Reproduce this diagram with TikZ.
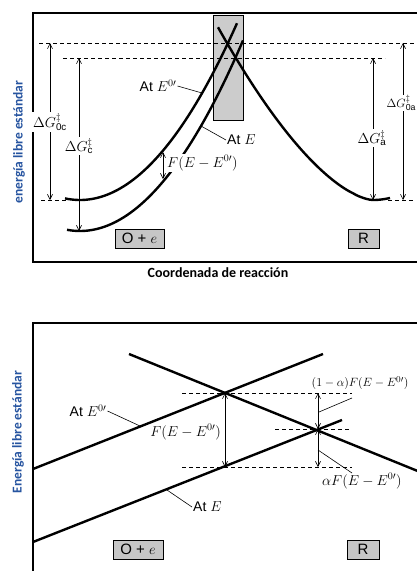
\documentclass[tikz,border=0pt]{standalone}
\usepackage{fontspec}
\setmainfont{Liberation Sans}
\newfontfamily\calib{Carlito}
\usetikzlibrary{arrows.meta}
\definecolor{axblue}{RGB}{38,84,160}
\begin{document}
\begin{tikzpicture}[x=1pt,y=-1pt,
  curve/.style={line width=2.4pt},
  dsh/.style={dash pattern=on 4pt off 3pt, line width=0.75pt},
  dim/.style={line width=0.6pt, {Straight Barb[length=5pt,width=5pt]}-{Straight Barb[length=5pt,width=5pt]}},
  lead/.style={line width=0.6pt},
  frame/.style={line width=1.1pt},
  tag/.style={draw, line width=0.9pt, fill=gray!45, inner sep=0pt, font=\fontsize{15}{15}\selectfont},
  lab/.style={font=\fontsize{14}{16}\selectfont, inner sep=1pt},
  slab/.style={font=\fontsize{12.5}{15}\selectfont, inner sep=1pt},
  wlab/.style={lab, fill=white},
  axis/.style={font=\calib\bfseries\fontsize{13.5}{15}\selectfont, inner sep=0pt}]
\useasboundingbox (0,0) rectangle (417,571);
\fill[white] (0,0) rectangle (417,571);
% ================= TOP PANEL =================
\draw[frame] (417,13) -- (33,13) -- (33,262) -- (417,262);
\draw[fill=gray!40, line width=0.6pt] (213,15) rectangle (243,120);
\draw[dsh] (39,43) -- (417,43);
\draw[dsh] (63,58) -- (385,58);
\draw[dsh] (41,200) -- (66,200);
\draw[dsh] (388,200) -- (414,200);
% curves
\draw[curve] plot[domain=65:237, samples=60, smooth] (\x, {200-0.00717*(\x-80)*(\x-80)});
\draw[curve] plot[domain=67:243, samples=60, smooth] (\x, {231-0.00717*(\x-80)*(\x-80)});
\draw[curve] plot[domain=218:372, samples=60, smooth] (\x, {200-157*((373-\x)/146)^1.6})
   -- plot[domain=372:390, samples=10, smooth] (\x, {200-0.0072*(\x-373)*(\x-373)});
% dimension arrows
\coordinate (c0t) at (50,43);  \coordinate (c0b) at (50,200);
\coordinate (ct) at (79,58);   \coordinate (cb) at (79,231);
\coordinate (at) at (373,58);  \coordinate (ab) at (373,200);
\coordinate (a0t) at (403,43); \coordinate (a0b) at (403,200);
\coordinate (ft) at (163,152); \coordinate (fb) at (163,179);
\draw[dim] (c0t) -- (c0b);
\draw[dim] (ct) -- (cb);
\draw[dim] (at) -- (ab);
\draw[dim] (a0t) -- (a0b);
\draw[dim] (ft) -- (fb);
\node[wlab] (g0c) at (50,122) {$\Delta G^{\ddagger}_{\mathrm{0c}}$};
\node[wlab] (gc) at (79,146) {$\Delta G^{\ddagger}_{\mathrm{c}}$};
\node[wlab] (ga) at (372,138) {$\Delta G^{\ddagger}_{\mathrm{a}}$};
\node[slab, fill=white, anchor=west, inner sep=0.5pt] (g0a) at (386,103) {$\Delta G^{\ddagger}_{\mathrm{0a}}$};
\node[wlab, anchor=west] (fl) at (166,163) {$F(E-E^{0\prime})$};
% labels with leaders
\node[lab] (t0) at (158,86) {At $E^{0\prime}$};
\coordinate (t0c) at (202,93);
\draw[lead] (t0.east) -- (t0c);
\node[lab, anchor=west] (t1) at (226,140) {At $E$};
\coordinate (t1c) at (201,126);
\draw[lead] (t1c) -- (t1.west);
% species boxes
\node[tag, minimum width=49pt, minimum height=19pt] (ox) at (139.5,238.5) {O + $e$};
\node[tag, minimum width=31pt, minimum height=19pt] (rd) at (363.5,238.5) {R};
\node[font=\calib\bfseries\fontsize{14}{16}\selectfont] (xl) at (218,273) {Coordenada de reacción};
\node[axis, rotate=90, text=axblue] (yl) at (19,142) {energía libre estándar};
% ================= BOTTOM PANEL =================
\draw[frame] (417,323) -- (33,323) -- (33,575);
\draw[dsh] (182,393) -- (352,393);
\draw[dsh] (275,429) -- (349,429);
\draw[dsh] (182,467) -- (352,467);
\coordinate (l0a) at (33,469);  \coordinate (l0b) at (323,354);
\coordinate (lra) at (129,354); \coordinate (lrb) at (430,476);
\coordinate (l1a) at (33,542);  \coordinate (l1b) at (342,420);
\draw[curve] (l0a) -- (l0b);
\draw[curve] (lra) -- (lrb);
\draw[curve] (l1a) -- (l1b);
\coordinate (bft) at (225,393); \coordinate (bfb) at (225,467);
\coordinate (bat) at (318,393); \coordinate (bam) at (318,429); \coordinate (bab) at (318,467);
\draw[dim] (bft) -- (bfb);
\draw[dim] (bat) -- (bam);
\draw[dim] (bam) -- (bab);
\node[lab, anchor=east] (bfl) at (222,432) {$F(E-E^{0\prime})$};
\node[slab, anchor=west, inner sep=0.5pt] (b1a) at (311,383) {$(1-\alpha)F(E-E^{0\prime})$};
\coordinate (b1ac) at (319,412);
\draw[lead] (352,398) -- (b1ac);
\node[lab, anchor=west] (baf) at (321,481) {$\alpha F(E-E^{0\prime})$};
\coordinate (bafc) at (318,450);
\draw[lead] (bafc) -- (352,473);
\node[lab] (bt0) at (88,411) {At $E^{0\prime}$};
\coordinate (bt0c) at (140,426);
\draw[lead] (bt0.east) -- (bt0c);
\node[lab, anchor=west] (bt1) at (192,507) {At $E$};
\coordinate (bt1c) at (167,490);
\draw[lead] (bt1c) -- (bt1.west);
\node[tag, minimum width=50pt, minimum height=19pt] (box) at (138,549.5) {O + $e$};
\node[tag, minimum width=32pt, minimum height=19pt] (brd) at (363,549.5) {R};
\node[axis, rotate=90, text=axblue] (byl) at (18,432) {Energía libre estándar};
\end{tikzpicture}
\end{document}
